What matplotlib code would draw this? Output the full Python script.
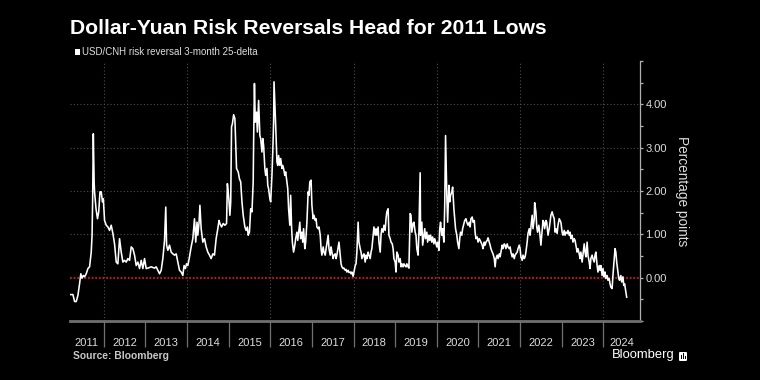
import matplotlib
matplotlib.use("Agg")
import matplotlib.pyplot as plt
from matplotlib.patches import Rectangle, FancyBboxPatch
import numpy as np

plt.rcParams['font.family'] = ['Liberation Sans', 'DejaVu Sans']

# ---------------- data (decimal year, percentage points) ----------------
dates = [
    2011.18, 2011.26, 2011.30, 2011.34, 2011.38, 2011.42, 2011.45, 2011.48, 2011.51, 2011.54,
    2011.58, 2011.62, 2011.66, 2011.70, 2011.72, 2011.735, 2011.75, 2011.77, 2011.78, 2011.815,
    2011.85, 2011.88, 2011.91, 2011.94, 2011.97, 2011.99, 2012.02, 2012.06, 2012.10, 2012.14,
    2012.18, 2012.22, 2012.26, 2012.30, 2012.34, 2012.38, 2012.42, 2012.46, 2012.50, 2012.54,
    2012.58, 2012.62, 2012.66, 2012.70, 2012.74, 2012.78, 2012.82, 2012.86, 2012.90, 2012.94,
    2012.98, 2013.02,
    2013.06, 2013.14, 2013.22, 2013.26, 2013.30, 2013.34, 2013.38, 2013.42, 2013.46, 2013.49,
    2013.51, 2013.54, 2013.58, 2013.62, 2013.66, 2013.70, 2013.74, 2013.78, 2013.82, 2013.86,
    2013.90, 2013.93, 2013.96, 2013.99, 2014.02, 2014.06, 2014.10, 2014.14, 2014.18, 2014.21,
    2014.24, 2014.26, 2014.29, 2014.31, 2014.34, 2014.38, 2014.42, 2014.46, 2014.50, 2014.54,
    2014.58, 2014.62, 2014.66, 2014.70, 2014.74, 2014.77, 2014.79, 2014.83, 2014.87, 2014.91,
    2014.95, 2014.97,
    2014.99, 2015.01, 2015.03, 2015.05, 2015.07, 2015.09, 2015.12, 2015.15, 2015.17, 2015.19,
    2015.23, 2015.26, 2015.29, 2015.32, 2015.35, 2015.39, 2015.42, 2015.45, 2015.47, 2015.50,
    2015.53, 2015.56, 2015.59, 2015.60, 2015.62, 2015.64, 2015.67, 2015.69, 2015.72, 2015.75,
    2015.77, 2015.80, 2015.82, 2015.84, 2015.87, 2015.89, 2015.92, 2015.94, 2015.96, 2015.99,
    2016.01, 2016.04, 2016.06, 2016.08, 2016.09, 2016.11, 2016.13, 2016.16, 2016.18, 2016.20,
    2016.23, 2016.25, 2016.28, 2016.30, 2016.32, 2016.35, 2016.37, 2016.40, 2016.42, 2016.44,
    2016.47, 2016.49, 2016.51, 2016.53, 2016.56, 2016.59, 2016.61, 2016.64, 2016.66, 2016.68,
    2016.71, 2016.73, 2016.76, 2016.78, 2016.80, 2016.83, 2016.85, 2016.88,
    2016.91, 2016.93, 2016.95, 2016.98, 2017.00, 2017.03, 2017.05, 2017.08, 2017.10, 2017.12,
    2017.15, 2017.17, 2017.20, 2017.22, 2017.24, 2017.27, 2017.29, 2017.32, 2017.34, 2017.36,
    2017.39, 2017.41, 2017.44, 2017.46, 2017.48, 2017.51, 2017.53, 2017.56, 2017.58, 2017.60,
    2017.63, 2017.65, 2017.68, 2017.70, 2017.72, 2017.75, 2017.77, 2017.80, 2017.82, 2017.84,
    2017.87, 2017.89, 2017.92, 2017.94, 2017.96, 2017.99, 2018.01, 2018.04, 2018.06, 2018.08,
    2018.11, 2018.13, 2018.16, 2018.18, 2018.20, 2018.23, 2018.25, 2018.28, 2018.30, 2018.32,
    2018.35, 2018.37, 2018.40, 2018.42, 2018.44, 2018.47, 2018.49, 2018.52, 2018.54, 2018.56,
    2018.59, 2018.61, 2018.64, 2018.66, 2018.68, 2018.71, 2018.73, 2018.76, 2018.78, 2018.80,
    2018.83, 2018.85, 2018.88, 2018.90, 2018.93, 2018.95, 2018.97, 2019.00, 2019.02, 2019.04,
    2019.07, 2019.09, 2019.12, 2019.14, 2019.16, 2019.19, 2019.21, 2019.24, 2019.26, 2019.28,
    2019.31, 2019.33, 2019.36, 2019.38, 2019.40, 2019.43, 2019.45, 2019.48, 2019.50, 2019.52,
    2019.55, 2019.57, 2019.60, 2019.61, 2019.64, 2019.66, 2019.69, 2019.71, 2019.73, 2019.76,
    2019.78, 2019.81, 2019.83, 2019.85, 2019.88, 2019.90, 2019.93, 2019.95, 2019.97, 2020.00,
    2020.02, 2020.05, 2020.07, 2020.09, 2020.12, 2020.14, 2020.17, 2020.19, 2020.21, 2020.24,
    2020.26, 2020.29, 2020.31, 2020.33, 2020.36, 2020.38, 2020.41, 2020.43, 2020.45, 2020.48,
    2020.50, 2020.53, 2020.55, 2020.57, 2020.60, 2020.62, 2020.65, 2020.67, 2020.70, 2020.72,
    2020.75, 2020.78, 2020.80, 2020.82, 2020.85, 2020.87, 2020.90, 2020.92, 2020.94, 2020.97,
    2020.99, 2021.02, 2021.04, 2021.06, 2021.09, 2021.11, 2021.14, 2021.16, 2021.18, 2021.21,
    2021.23, 2021.26, 2021.28, 2021.30, 2021.33, 2021.35, 2021.38, 2021.40, 2021.42, 2021.45,
    2021.47, 2021.50, 2021.52, 2021.54, 2021.57, 2021.59, 2021.62, 2021.64, 2021.66, 2021.69,
    2021.71, 2021.74, 2021.76, 2021.78, 2021.81, 2021.83, 2021.86, 2021.88, 2021.90, 2021.93,
    2021.95, 2021.98, 2022.00, 2022.02, 2022.05, 2022.07, 2022.10, 2022.12, 2022.14, 2022.17,
    2022.19, 2022.22, 2022.24, 2022.26, 2022.29, 2022.31, 2022.34, 2022.35, 2022.38, 2022.40,
    2022.42, 2022.45, 2022.47, 2022.50, 2022.52, 2022.55, 2022.57, 2022.59, 2022.62, 2022.64,
    2022.67, 2022.70, 2022.72, 2022.74, 2022.77, 2022.79, 2022.82, 2022.84, 2022.86, 2022.89,
    2022.91, 2022.94, 2022.96, 2022.98, 2023.01, 2023.03, 2023.06, 2023.08, 2023.10, 2023.13,
    2023.15, 2023.18, 2023.20, 2023.22, 2023.25, 2023.27, 2023.30, 2023.32, 2023.34, 2023.37,
    2023.39, 2023.42, 2023.44, 2023.46, 2023.49, 2023.51, 2023.54, 2023.56, 2023.58, 2023.61,
    2023.63, 2023.66, 2023.68, 2023.70, 2023.73, 2023.75, 2023.78, 2023.80, 2023.82, 2023.85,
    2023.87, 2023.90, 2023.92, 2023.94, 2023.97, 2023.99, 2024.02, 2024.04, 2024.06, 2024.09,
    2024.11, 2024.14, 2024.16, 2024.18, 2024.21, 2024.23, 2024.26, 2024.28, 2024.30, 2024.32,
    2024.35, 2024.37, 2024.39, 2024.42, 2024.44, 2024.47, 2024.49, 2024.51, 2024.54, 2024.56,
]

values = [
    -0.39, -0.39, -0.55, -0.55, -0.41, -0.14, 0.09, -0.01, 0.05, 0.02,
    0.09, 0.21, 0.25, 0.59, 0.98, 1.90, 3.32, 2.20, 1.98, 1.59,
    1.36, 1.52, 1.98, 1.98, 1.75, 1.82, 1.32, 1.21, 1.17, 1.09,
    1.21, 1.02, 0.78, 0.36, 0.32, 0.90, 0.59, 0.36, 0.40, 0.36,
    0.44, 0.40, 0.71, 0.67, 0.52, 0.28, 0.36, 0.21, 0.40, 0.21,
    0.44, 0.21,
    0.22, 0.25, 0.22, 0.25, 0.17, 0.09, 0.17, 0.44, 0.86, 1.63,
    0.75, 0.63, 0.75, 0.59, 0.55, 0.52, 0.55, 0.36, 0.17, 0.13,
    0.05, 0.28, 0.21, 0.32, 0.28, 0.48, 0.71, 0.90, 1.36, 0.82,
    1.28, 0.98, 1.28, 1.67, 1.13, 0.82, 0.90, 0.71, 0.59, 0.52,
    0.44, 0.55, 0.52, 0.90, 1.13, 1.32, 1.25, 1.17, 1.25, 1.21,
    1.25, 2.17,
    1.98, 1.75, 1.44, 1.75, 3.48, 3.55, 3.76, 3.67, 3.13, 2.52,
    2.44, 2.28, 2.21, 1.75, 1.44, 1.17, 1.09, 1.17, 0.98, 1.05,
    1.59, 1.52, 2.21, 3.13, 4.48, 3.59, 3.82, 3.36, 4.09, 3.28,
    3.21, 2.90, 3.21, 3.05, 2.52, 2.36, 2.52, 2.13, 2.05, 1.82,
    1.75, 2.36, 2.90, 3.59, 4.52, 4.05, 3.52, 2.67, 2.59, 2.82,
    2.59, 2.75, 2.52, 2.59, 2.52, 2.36, 2.44, 2.21, 2.05, 1.59,
    1.21, 1.90, 1.21, 0.82, 0.59, 0.75, 0.90, 1.05, 0.86, 1.02,
    1.28, 0.90, 1.05, 0.82, 1.13, 0.67, 0.82, 1.28,
    1.98, 1.90, 2.21, 2.25, 1.67, 1.36, 1.44, 1.32, 1.36, 1.17,
    1.13, 1.17, 0.98, 0.67, 0.52, 0.71, 0.59, 0.52, 0.67, 0.78,
    0.98, 0.67, 0.52, 0.71, 0.59, 0.44, 0.52, 0.55, 0.44, 0.52,
    0.71, 0.82, 0.52, 0.32, 0.25, 0.21, 0.22, 0.17, 0.19, 0.13,
    0.17, 0.12, 0.13, 0.09, 0.13, 0.03, 0.13, 0.28, 0.32, 0.59,
    1.28, 0.82, 0.67, 0.59, 0.44, 0.52, 0.55, 0.36, 0.52, 0.44,
    0.59, 0.52, 0.44, 0.59, 0.67, 0.98, 1.17, 0.98, 1.13, 0.98,
    1.17, 0.82, 0.59, 0.98, 1.13, 1.05, 1.21, 1.09, 1.36, 1.52,
    1.59, 0.98, 0.90, 0.82, 0.78, 0.67, 0.44, 0.36, 0.13, 0.59,
    0.52, 0.36, 0.44, 0.25, 0.32, 0.25, 0.32, 0.27, 0.25, 0.32,
    0.25, 0.22, 1.48, 1.44, 1.05, 1.25, 1.28, 1.05, 0.98, 0.67,
    0.52, 1.05, 2.42, 0.98, 1.28, 0.75, 0.98, 1.13, 0.90, 1.05,
    0.82, 0.98, 0.86, 0.98, 0.82, 0.94, 0.78, 0.90, 0.82, 0.71,
    0.82, 0.63, 1.13, 1.28, 0.98, 1.13, 0.82, 1.67, 3.28, 1.90,
    1.28, 2.13, 1.75, 1.90, 1.98, 2.09, 1.59, 1.36, 1.13, 0.98,
    0.82, 0.67, 0.90, 1.05, 0.98, 1.13, 1.25, 1.32, 1.36, 1.28,
    1.21, 1.28, 1.17, 1.36, 1.40, 1.28, 1.32, 1.05, 0.90, 0.94,
    0.82, 0.90, 0.86, 0.82, 0.75, 0.67, 0.82, 0.75, 0.82, 0.86,
    0.92, 0.82, 0.75, 0.67, 0.59, 0.55, 0.44, 0.25, 0.44, 0.52,
    0.44, 0.55, 0.48, 0.59, 0.75, 0.67, 0.78, 0.75, 0.67, 0.78,
    0.71, 0.67, 0.71, 0.59, 0.48, 0.55, 0.44, 0.52, 0.55, 0.59,
    0.67, 0.75, 0.67, 0.48, 0.40, 0.52, 0.44, 0.48, 0.59, 0.82,
    1.02, 1.13, 0.98, 1.17, 1.44, 1.13, 1.36, 1.73, 1.52, 1.17,
    1.05, 1.21, 1.05, 0.75, 0.98, 1.32, 1.28, 1.13, 1.32, 1.28,
    0.98, 1.13, 1.28, 1.44, 1.52, 1.44, 1.36, 1.05, 1.13, 1.02,
    1.21, 1.36, 1.32, 1.28, 1.05, 0.98, 1.09, 0.98, 1.05, 1.02,
    1.09, 0.98, 1.05, 0.90, 0.98, 0.82, 0.90, 0.86, 0.75, 0.59,
    0.67, 0.55, 0.44, 0.59, 0.36, 0.52, 0.78, 0.59, 0.48, 0.82,
    0.52, 0.36, 0.21, 0.44, 0.52, 0.44, 0.36, 0.52, 0.59, 0.28,
    0.13, 0.28, 0.17, 0.28, 0.05, 0.21, 0.02, 0.13, -0.02, 0.05,
    -0.06, -0.02, -0.14, -0.22, -0.25, 0.05, 0.44, 0.67, 0.59, 0.36,
    0.13, -0.02, -0.06, 0.05, -0.10, 0.02, -0.18, -0.14, -0.33, -0.45,
]

title = "Dollar-Yuan Risk Reversals Head for 2011 Lows"
series_label = "USD/CNH risk reversal 3-month 25-delta"
y_label = "Percentage points"
source_text = "Source: Bloomberg"
brand_text = "Bloomberg"
year_labels = [str(y) for y in range(2011, 2025)]
year_bounds = list(range(2012, 2025))
y_ticks = [0, 1, 2, 3, 4]

assert len(dates) == len(values)

# ---------------- figure ----------------
BG = 'black'
fig = plt.figure(figsize=(7.6, 3.8), dpi=100, facecolor=BG)
W, H = 760.0, 380.0
ax = fig.add_axes([70 / W, 1 - 321 / H, 570 / W, 260 / H])
ax.set_facecolor(BG)

x0, x1 = 2011.19, 2024.88
ax.set_xlim(x0, x1)
ax.set_ylim(-1.0, 5.0)

grid_kw = dict(color='#4d4d4d', lw=0.8, ls=(0, (1, 2)), zorder=1)
for yv in [1, 2, 3, 4]:
    ax.axhline(yv, **grid_kw)
for xv in year_bounds[::2]:
    ax.axvline(xv, **grid_kw)

ax.axhline(0, color='#d41a1a', lw=1.3, ls=(0, (1, 1)), zorder=2)
ax.plot(dates, values, color='white', lw=1.15, zorder=3)

# spines
for s in ['left', 'top']:
    ax.spines[s].set_visible(False)
ax.spines['right'].set_color('#b0b0b0')
ax.spines['right'].set_linewidth(0.9)
ax.spines['bottom'].set_color('#707070')
ax.spines['bottom'].set_linewidth(2.0)

# y axis on right
ax.yaxis.tick_right()
ax.set_yticks(y_ticks)
ax.set_yticklabels([f"{v:.2f}" for v in y_ticks])
ax.set_yticks(np.arange(-1.0, 5.01, 0.5), minor=True)
ax.tick_params(axis='y', which='both', direction='out', length=2.5, width=0.9,
               color='#b0b0b0', labelcolor='#dddddd', labelsize=8, pad=1.5)

# x axis: long separators at year boundaries, labels centered in each year
ax.set_xticks(year_bounds)
ax.set_xticklabels([''] * len(year_bounds))
label_pos = [(x0 + 2012) / 2] + [y + 0.5 for y in range(2012, 2024)] + [(2024 + x1) / 2]
ax.set_xticks(label_pos, minor=True)
ax.set_xticklabels(year_labels, minor=True)
ax.tick_params(axis='x', which='major', direction='out', length=19, width=0.9, color='#707070')
ax.tick_params(axis='x', which='minor', length=0, labelcolor='#dddddd', labelsize=8, pad=12)

# texts
fig.text(82 / W, 1 - 52 / H, series_label, color='#dddddd', fontsize=7, va='center', ha='left')
fig.patches.append(Rectangle((75 / W, 1 - 54.5 / H), 5 / W, 5 / H, transform=fig.transFigure,
                             facecolor='white', edgecolor='none'))
fig.text(70 / W, 1 - 29 / H, title, color='white', fontsize=15.2, fontweight='bold',
         va='center', ha='left')
fig.text(682 / W, 1 - 191 / H, y_label, color='#dddddd', fontsize=9.8, rotation=270,
         va='center', ha='center')
fig.text(73 / W, 1 - 356 / H, source_text, color='#c8c8c8', fontsize=7.4, fontweight='bold',
         va='center', ha='left')
fig.text(612 / W, 1 - 355 / H, brand_text, color='white', fontsize=9.4, va='center', ha='left')

# small brand icon
fig.patches.append(FancyBboxPatch((679 / W, 1 - 361 / H), 8 / W, 9 / H,
                                  boxstyle='round,pad=0,rounding_size=0.002',
                                  transform=fig.transFigure, facecolor='white', edgecolor='none'))
for bx, bh in [(681, 4), (683, 6), (685, 3)]:
    fig.patches.append(Rectangle((bx / W, 1 - 359 / H), 1 / W, bh / H, transform=fig.transFigure,
                                 facecolor='black', edgecolor='none'))

fig.savefig('out.png', dpi=100, facecolor=BG)
